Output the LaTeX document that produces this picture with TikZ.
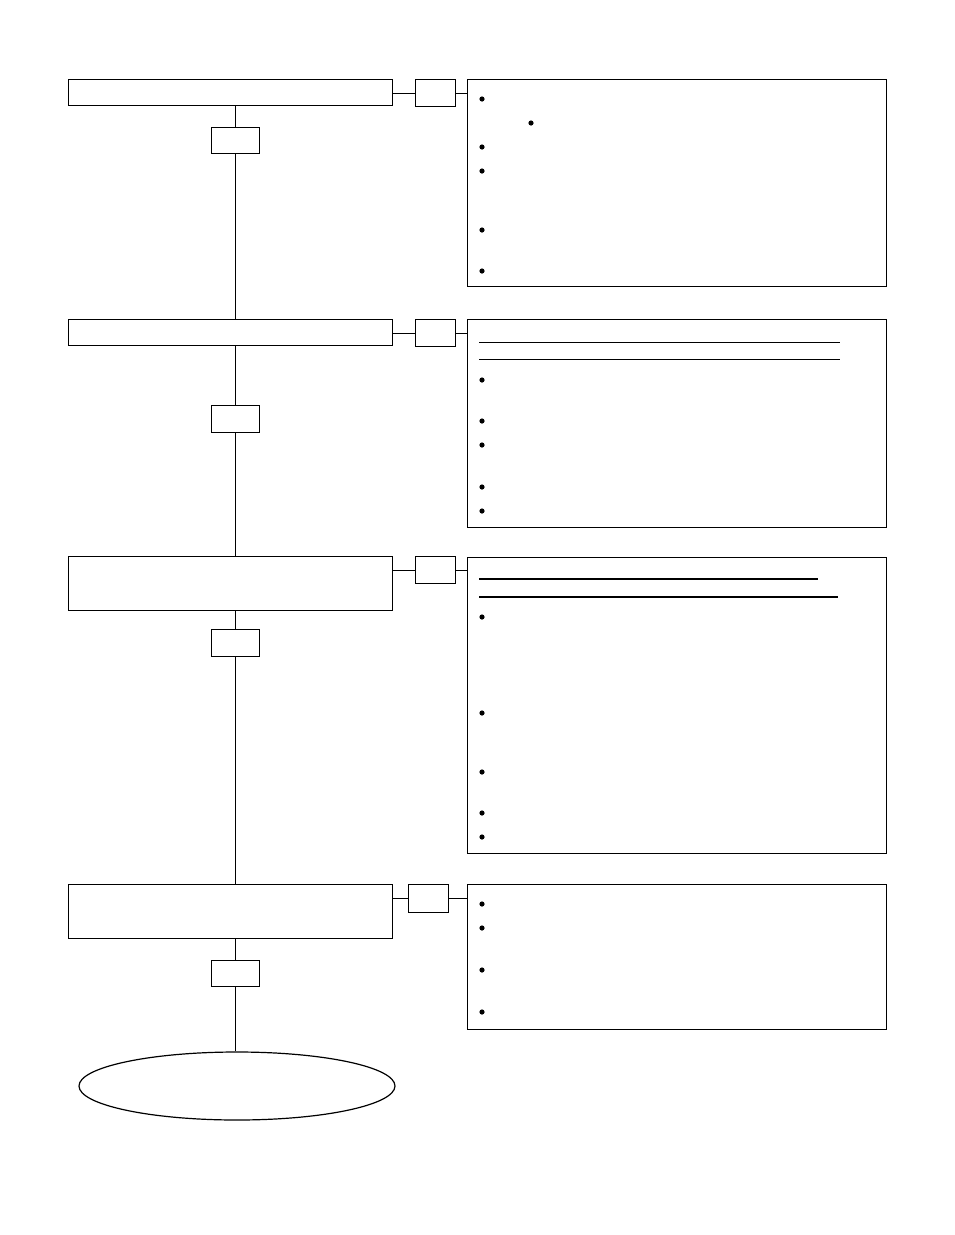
\documentclass[tikz,border=0pt]{standalone}
\usetikzlibrary{shapes.geometric}
\begin{document}
\begin{tikzpicture}[x=1pt,y=-1pt,
  box/.style={draw, line width=1.2pt, inner sep=0pt, anchor=north west, fill=white},
  conn/.style={line width=1pt},
  rule/.style={line width=1pt},
  thickrule/.style={line width=1.8pt},
  dot/.style={fill=black}]
\useasboundingbox (0,0) rectangle (954,1235);
% step 1
\node[box, minimum width=324pt, minimum height=26pt] (a1) at (68,79) {};
\node[box, minimum width=40pt, minimum height=27pt] (c1) at (415,79) {};
\node[box, minimum width=419pt, minimum height=207pt] (r1) at (467,79) {};
\node[box, minimum width=48pt, minimum height=26pt] (v1) at (211,127) {};
% step 2
\node[box, minimum width=324pt, minimum height=26pt] (a2) at (68,319) {};
\node[box, minimum width=40pt, minimum height=27pt] (c2) at (415,319) {};
\node[box, minimum width=419pt, minimum height=208pt] (r2) at (467,319) {};
\node[box, minimum width=48pt, minimum height=27pt] (v2) at (211,405) {};
% step 3
\node[box, minimum width=324pt, minimum height=54pt] (a3) at (68,556) {};
\node[box, minimum width=40pt, minimum height=27pt] (c3) at (415,556) {};
\node[box, minimum width=419pt, minimum height=296pt] (r3) at (467,557) {};
\node[box, minimum width=48pt, minimum height=27pt] (v3) at (211,629) {};
% step 4
\node[box, minimum width=324pt, minimum height=54pt] (a4) at (68,884) {};
\node[box, minimum width=40pt, minimum height=28pt] (c4) at (408,884) {};
\node[box, minimum width=419pt, minimum height=145pt] (r4) at (467,884) {};
\node[box, minimum width=48pt, minimum height=26pt] (v4) at (211,960) {};
% end ellipse
\node[draw, line width=1.2pt, ellipse, minimum width=316pt, minimum height=68pt, inner sep=0pt] (e) at (237,1086) {};
% vertical connectors
\draw[conn] (a1.south -| v1.north) -- (v1.north);
\draw[conn] (v1.south) -- (v1.south |- a2.north);
\draw[conn] (a2.south -| v2.north) -- (v2.north);
\draw[conn] (v2.south) -- (v2.south |- a3.north);
\draw[conn] (a3.south -| v3.north) -- (v3.north);
\draw[conn] (v3.south) -- (v3.south |- a4.north);
\draw[conn] (a4.south -| v4.north) -- (v4.north);
\draw[conn] (v4.south) -- (v4.south |- e.north);
% horizontal connectors
\draw[conn] (c1.west -| a1.east) -- (c1.west);
\draw[conn] (c1.east) -- (c1.east -| r1.west);
\draw[conn] (c2.west -| a2.east) -- (c2.west);
\draw[conn] (c2.east) -- (c2.east -| r2.west);
\draw[conn] (c3.west -| a3.east) -- (c3.west);
\draw[conn] (c3.east) -- (c3.east -| r3.west);
\draw[conn] (c4.west -| a4.east) -- (c4.west);
\draw[conn] (c4.east) -- (c4.east -| r4.west);
% rules
\draw[rule] (479,342) -- (840,342);
\draw[rule] (479,359) -- (840,359);
\draw[thickrule] (479,579) -- (818,579);
\draw[thickrule] (479,597) -- (838,597);
% bullets
\foreach \y in {99,147,171,230,271,380,421,445,487,511,617,713,772,813,837,904,928,970,1012}
  \fill[dot] (482,\y) circle (2.6pt);
\fill[dot] (531,123) circle (2.6pt);
\end{tikzpicture}
\end{document}
